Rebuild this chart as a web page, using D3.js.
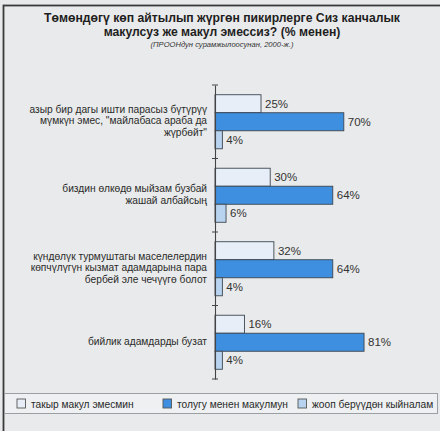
<!DOCTYPE html>
<html>
<head>
<meta charset="utf-8">
<script src="https://cdn.jsdelivr.net/npm/d3@7"></script>
<style>
  html, body { margin: 0; padding: 0; background: #e8e9ea; }
  svg { display: block; font-family: "Liberation Sans", Arial, sans-serif; }
</style>
</head>
<body>
<svg id="chart" width="440" height="431"></svg>
<script>
const categories = [
  ['азыр бир дагы ишти парасыз бүтүрүү', 'мүмкүн эмес, "майлабаса араба да', 'жүрбөйт"'],
  ['биздин өлкөдө мыйзам бузбай', 'жашай албайсың'],
  ['күндөлүк турмуштагы маселелердин', 'көпчүлүгүн кызмат адамдарына пара', 'бербей эле чечүүгө болот'],
  ['бийлик адамдарды бузат']
];
const seriesNames = ['такыр макул эмесмин', 'толугу менен макулмун', 'жооп берүүдөн кыйналам'];
const disagree = [25, 30, 32, 16];
const agree = [70, 64, 64, 81];
const hardToSay = [4, 6, 4, 4];
const seriesColors = ['#e7eef7', '#3f8fe0', '#b8d3ef'];

const titleLines = ['Төмөндөгү көп айтылып жүргөн пикирлерге Сиз канчалык', 'макулсуз же макул эмессиз? (% менен)'];
const subtitle = '(ПРООНдун сурамжылоосунан, 2000-ж.)';

const svg = d3.select('#chart');

// frame
svg.append('rect')
  .attr('x', 3.5).attr('y', 5.5)
  .attr('width', 460).attr('height', 460)
  .attr('fill', '#e9eaeb')
  .attr('stroke', '#3a3a3a')
  .attr('stroke-width', 1.8);

// title
svg.selectAll('.title').data(titleLines).enter()
  .append('text')
  .attr('class', 'title')
  .attr('x', 222)
  .attr('y', (d, i) => 22 + i * 13.5)
  .attr('text-anchor', 'middle')
  .attr('font-size', 12.2)
  .attr('font-weight', 'bold')
  .attr('fill', '#1e1e1e')
  .text(d => d);

svg.append('text')
  .attr('x', 222).attr('y', 46.5)
  .attr('text-anchor', 'middle')
  .attr('font-size', 7.6)
  .attr('font-style', 'italic')
  .attr('fill', '#333')
  .text(subtitle);

const x = d3.scaleLinear().domain([0, 100]).range([215, 399]);
const y = d3.scaleBand().domain(d3.range(categories.length)).range([85, 379]);
const inner = d3.scaleBand().domain([0, 1, 2]).range([0, y.bandwidth()]).paddingOuter(0.54).paddingInner(0);

const rows = categories.map((c, i) => [disagree[i], agree[i], hardToSay[i]]);

const g = svg.append('g');
const groups = g.selectAll('.group').data(rows).enter()
  .append('g')
  .attr('class', 'group')
  .attr('transform', (d, i) => `translate(0,${y(i)})`);

groups.selectAll('rect').data(d => d).enter()
  .append('rect')
  .attr('x', x(0))
  .attr('y', (d, j) => inner(j))
  .attr('width', d => x(d) - x(0))
  .attr('height', inner.bandwidth())
  .attr('fill', (d, j) => seriesColors[j])
  .attr('stroke', '#3c4650')
  .attr('stroke-width', 0.9);

groups.selectAll('.val').data(d => d).enter()
  .append('text')
  .attr('class', 'val')
  .attr('x', d => x(d) + 4)
  .attr('y', (d, j) => inner(j) + inner.bandwidth() / 2 + 4)
  .attr('font-size', 11.5)
  .attr('fill', '#333')
  .text(d => d + '%');

// category labels
const lineH = 11.5;
g.selectAll('.cat').data(categories).enter()
  .append('text')
  .attr('class', 'cat')
  .attr('text-anchor', 'end')
  .attr('font-size', 10.2)
  .attr('fill', '#2a2a2a')
  .each(function (lines, i) {
    const cy = y(i) + y.bandwidth() / 2 - 1;
    const top = cy - (lines.length - 1) * lineH / 2;
    d3.select(this).selectAll('tspan').data(lines).enter()
      .append('tspan')
      .attr('x', 207)
      .attr('y', (d, k) => top + k * lineH + 3.5)
      .text(d => d);
  });

// axis
const axis = d3.axisLeft(y).tickValues([]).tickSize(0);
const axisG = svg.append('g').attr('transform', `translate(${x(0)},0)`).call(axis);
axisG.select('.domain').attr('stroke', '#444').attr('stroke-width', 1.1);
const tickYs = y.domain().map(i => y(i)).concat([y.range()[1]]);
axisG.selectAll('.tk').data(tickYs).enter()
  .append('line')
  .attr('class', 'tk')
  .attr('x1', -3).attr('x2', 3)
  .attr('y1', d => d).attr('y2', d => d)
  .attr('stroke', '#444')
  .attr('stroke-width', 1);

// legend
svg.append('rect')
  .attr('x', 4.5).attr('y', 393.5)
  .attr('width', 433).attr('height', 20)
  .attr('fill', '#eef0f1')
  .attr('stroke', '#9a9fa3')
  .attr('stroke-width', 1);

const legendX = [17, 163, 298];
const leg = svg.selectAll('.leg').data(seriesNames).enter()
  .append('g')
  .attr('class', 'leg')
  .attr('transform', (d, i) => `translate(${legendX[i]},399)`);
leg.append('rect')
  .attr('width', 8.5).attr('height', 9)
  .attr('fill', (d, i) => seriesColors[i])
  .attr('stroke', '#555')
  .attr('stroke-width', 0.9);
leg.append('text')
  .attr('x', 14).attr('y', 8.5)
  .attr('font-size', 10.2)
  .attr('fill', '#2a2a2a')
  .text(d => d);
</script>
</body>
</html>
